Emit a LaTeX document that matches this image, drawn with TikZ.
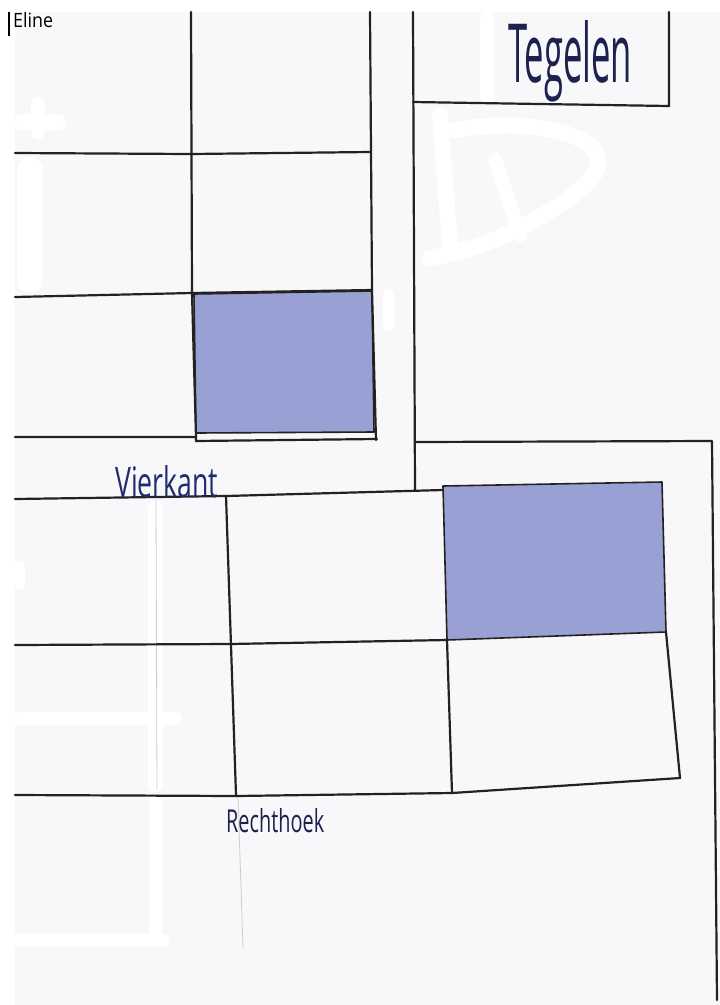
\documentclass[tikz,border=0pt]{standalone}
\usepackage{fontspec}
\setmainfont{Open Sans}
\usepackage{graphicx}
\definecolor{paper}{RGB}{248,248,250}
\definecolor{pencil}{RGB}{36,34,32}
\definecolor{faint}{RGB}{205,205,208}
\definecolor{tileblue}{RGB}{153,161,212}
\definecolor{ink}{RGB}{28,34,78}
\definecolor{inkblue}{RGB}{32,44,110}
\tikzset{
  gridline/.style={draw=pencil,line width=2.2pt,line join=round,line cap=round},
  faintline/.style={draw=faint,line width=0.8pt},
  whiteout/.style={draw=white,line cap=round,line join=round},
  tile/.style={fill=tileblue,draw=pencil,line width=1.6pt,line join=round},
  label/.style={inner sep=0pt,anchor=base west}
}
\newcommand{\hw}[3]{\resizebox{#1}{#2}{#3}}
\begin{document}
\begin{tikzpicture}[x=1pt,y=-1pt]
\useasboundingbox (0,0) rectangle (720,1005);
\fill[white] (0,0) rectangle (720,1005);
% paper
\fill[paper] (15,12) rectangle (720,1005);
% scanner mark
\draw[black,line width=2.5pt] (9,12) -- (9,36);
% white-out marks
\draw[whiteout,line width=16pt] (22,122) -- (58,122);
\draw[whiteout,line width=14pt] (38,104) -- (38,132);
\draw[whiteout,line width=26pt] (30,170) -- (30,280);
\draw[whiteout,line width=14pt] (487,18) -- (487,98);
\draw[whiteout,line width=11pt] (388,294) -- (388,326);
\draw[whiteout,line width=16pt] (440,115) -- (450,245);
\draw[whiteout,line width=16pt] (455,130) .. controls (540,115) and (640,140) .. (580,190) .. controls (535,225) and (480,250) .. (430,258);
\draw[whiteout,line width=14pt] (495,160) -- (520,235);
\draw[whiteout,line width=15pt] (155,508) -- (155,785);
\draw[whiteout,line width=13pt] (155,802) -- (155,932);
\draw[whiteout,line width=13pt] (18,718) -- (176,718);
\draw[whiteout,line width=13pt] (12,940) -- (163,940);
\draw[whiteout,line width=10pt] (20,565) -- (20,585);
% faint pencil lines
\draw[faintline] (156,500) -- (157,790);
\draw[faintline] (238,797) -- (243,948);
% blue tiles
\path[tile] (194,294) -- (372,291) -- (374,432) -- (196,433) -- cycle;
\path[tile] (443,486) -- (662,482) -- (666,632) -- (447,640) -- cycle;
% top grid
\draw[gridline] (191,12) -- (192,293) -- (196,437);
\draw[gridline] (370,12) -- (372,290) -- (376,440);
\draw[gridline] (15,153) -- (191,154) -- (370,152);
\draw[gridline] (15,297) -- (192,293) -- (372,290);
\draw[gridline] (15,437) -- (196,437) -- (196,441) -- (377,439);
\draw[gridline] (413,12) -- (415,490);
\draw[gridline] (413,102) -- (540,104) -- (669,106) -- (669,12);
\draw[gridline] (416,442) -- (712,441) -- (717,1000);
% bottom grid
\draw[gridline] (15,499) -- (226,496) -- (443,490);
\draw[gridline] (226,496) -- (236,795);
\draw[gridline] (15,645) -- (230,644) -- (447,640);
\draw[gridline] (447,640) -- (452,793);
\draw[gridline] (15,795) -- (236,796) -- (452,793);
\draw[gridline] (452,793) -- (680,778) -- (666,632);
% labels
\node[label,text=black] (eline) at (13,27) {\hw{40pt}{15pt}{Eline}};
\node[label,text=ink] (tegelen) at (508,82) {\hw{124pt}{62pt}{Tegelen}};
\node[label,text=inkblue] (vierkant) at (115,497) {\hw{103pt}{32pt}{Vierkant}};
\node[label,text=ink] (rechthoek) at (226,832) {\hw{98pt}{24pt}{Rechthoek}};
\end{tikzpicture}
\end{document}
